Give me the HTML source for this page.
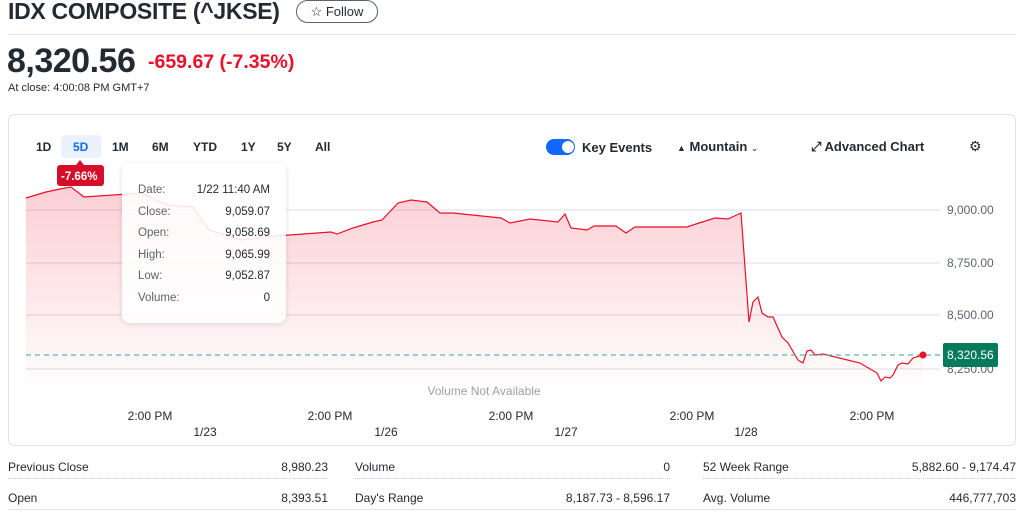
<!DOCTYPE html>
<html><head><meta charset="utf-8"><style>
body{margin:0;width:1024px;height:519px;background:#fff;font-family:"Liberation Sans",sans-serif;color:#232a31;position:relative;overflow:hidden}
.a{position:absolute;white-space:nowrap}
.tab{position:absolute;top:140px;font-size:12px;font-weight:bold;color:#232a31}
.st{position:absolute;font-size:12px;color:#232a31}
.r{text-align:right}
</style></head><body>
<div class="a" style="left:8px;top:-2px;font-size:23px;font-weight:bold;letter-spacing:-0.3px">IDX COMPOSITE (^JKSE)</div>
<div class="a" style="left:296px;top:0px;width:80px;height:21px;border:1px solid #5b636a;border-radius:12px;font-size:13px;line-height:21px;text-align:center">☆ Follow</div>
<div class="a" style="left:8px;top:34px;width:1008px;height:1px;background:#e0e4e9"></div>
<div class="a" style="left:7px;top:42px;font-size:34px;font-weight:bold;letter-spacing:-0.5px">8,320.56</div>
<div class="a" style="left:148px;top:51px;font-size:19.5px;font-weight:bold;color:#eb0f29">-659.67&nbsp;(-7.35%)</div>
<div class="a" style="left:8px;top:82px;font-size:11px;color:#232a31">At close: 4:00:08 PM GMT+7</div>
<div class="a" style="left:8px;top:114px;width:1006px;height:330px;border:1px solid #e0e4e9;border-radius:6px"></div>
<div class="a" style="left:61px;top:135px;width:40px;height:23px;background:#eaf3fd;border-radius:4px"></div>
<div class="tab" style="left:36px">1D</div><div class="tab" style="left:73px;color:#0f69ff">5D</div><div class="tab" style="left:112px">1M</div><div class="tab" style="left:152px">6M</div><div class="tab" style="left:193px">YTD</div><div class="tab" style="left:241px">1Y</div><div class="tab" style="left:277px">5Y</div><div class="tab" style="left:315px">All</div>
<div class="a" style="left:546px;top:139px;width:29px;height:16px;background:#0f69ff;border-radius:8px"></div>
<div class="a" style="left:562px;top:141px;width:12px;height:12px;background:#fff;border-radius:6px"></div>
<div class="a" style="left:582px;top:140px;font-size:13px;font-weight:bold">Key Events</div>
<div class="a" style="left:677px;top:139px;font-size:13px;font-weight:bold"><span style="font-size:9px">▲</span> Mountain <span style="font-size:9px;font-weight:normal">⌄</span></div>
<div class="a" style="left:811px;top:139px;font-size:13px;font-weight:bold">⤢ Advanced Chart</div>
<div class="a" style="left:969px;top:138px;font-size:14px">⚙</div>
<svg class="a" style="left:0;top:0" width="1024" height="519">
<defs><linearGradient id="g" x1="0" y1="0" x2="0" y2="1"><stop offset="0" stop-color="#eb0f29" stop-opacity="0.2"/><stop offset="1" stop-color="#eb0f29" stop-opacity="0.01"/></linearGradient></defs>
<g stroke="#e6e8eb" stroke-width="1.5"><line x1="26" y1="210" x2="940" y2="210"/><line x1="26" y1="263" x2="940" y2="263"/><line x1="26" y1="315" x2="940" y2="315"/><line x1="26" y1="369" x2="940" y2="369"/></g>
<path d="M26,198 L46,192 L60,189 L71,187 L84,197 L142,193 L167,205 L193,207 L209,230 L241,240 L276,236 L331,232 L337,234 L353,228 L373,222 L382,220 L398,203 L411,200 L427,202 L440,213 L453,213 L501,218 L510,223 L530,219 L558,222 L565,214 L571,228 L587,230 L594,226 L616,226 L626,233 L635,227 L687,227 L699,223 L715,218 L728,219 L741,213 L749,322 L753,302 L758,297 L762,313 L768,317 L773,317 L782,337 L788,343 L798,360 L803,363 L807,351 L811,350 L815,355 L823,354 L860,363 L877,373 L881,381 L885,377 L890,378 L893,375 L898,365 L902,363 L908,364 L913,358 L923,355" fill="none" stroke="#eb0f29" stroke-width="1.2"/>
<path d="M26,198 L46,192 L60,189 L71,187 L84,197 L142,193 L167,205 L193,207 L209,230 L241,240 L276,236 L331,232 L337,234 L353,228 L373,222 L382,220 L398,203 L411,200 L427,202 L440,213 L453,213 L501,218 L510,223 L530,219 L558,222 L565,214 L571,228 L587,230 L594,226 L616,226 L626,233 L635,227 L687,227 L699,223 L715,218 L728,219 L741,213 L749,322 L753,302 L758,297 L762,313 L768,317 L773,317 L782,337 L788,343 L798,360 L803,363 L807,351 L811,350 L815,355 L823,354 L860,363 L877,373 L881,381 L885,377 L890,378 L893,375 L898,365 L902,363 L908,364 L913,358 L923,355 L923,385 L26,385Z" fill="url(#g)"/>
<line x1="26" y1="355" x2="940" y2="355" stroke="#5fb5a6" stroke-width="1.2" stroke-dasharray="5,4"/>
<circle cx="923" cy="355" r="3.5" fill="#eb0f29"/>
<g font-size="12" fill="#5b636a"><text x="947" y="214">9,000.00</text><text x="947" y="267">8,750.00</text><text x="947" y="319">8,500.00</text><text x="947" y="373">8,250.00</text></g>
<rect x="943" y="343" width="55" height="24" rx="2" fill="#067a5c"/>
<text x="947" y="359" font-size="12" fill="#fff">8,320.56</text>
<rect x="57" y="165" width="47" height="21" rx="3" fill="#d50f29"/>
<path d="M76,165 L80,160 L84,165Z" fill="#d50f29"/>
<text x="61" y="180" font-size="11.5" font-weight="bold" fill="#fff">-7.66%</text>
<text x="484" y="395" font-size="12" fill="#9aa0a6" text-anchor="middle">Volume Not Available</text>
<g font-size="12" fill="#232a31" text-anchor="middle"><text x="150" y="420">2:00 PM</text><text x="330" y="420">2:00 PM</text><text x="511" y="420">2:00 PM</text><text x="692" y="420">2:00 PM</text><text x="872" y="420">2:00 PM</text>
<text x="205" y="436">1/23</text><text x="386" y="436">1/26</text><text x="566" y="436">1/27</text><text x="746" y="436">1/28</text></g>
</svg>
<div class="a" style="left:122px;top:163px;width:164px;height:160px;background:rgba(255,255,255,0.88);border-radius:8px;box-shadow:0 1px 6px rgba(0,0,0,0.12)"></div>
<div class="a" style="left:138px;top:180px;width:132px;font-size:11.5px;color:#5b636a;line-height:21.5px">
<div>Date:<span style="float:right;color:#232a31">1/22 11:40 AM</span></div>
<div>Close:<span style="float:right;color:#232a31">9,059.07</span></div>
<div>Open:<span style="float:right;color:#232a31">9,058.69</span></div>
<div>High:<span style="float:right;color:#232a31">9,065.99</span></div>
<div>Low:<span style="float:right;color:#232a31">9,052.87</span></div>
<div>Volume:<span style="float:right;color:#232a31">0</span></div></div>
<div class="st" style="left:8px;top:460px">Previous Close</div><div class="st r" style="left:200px;width:128px;top:460px">8,980.23</div>
<div class="st" style="left:355px;top:460px">Volume</div><div class="st r" style="left:560px;width:110px;top:460px">0</div>
<div class="st" style="left:703px;top:460px">52 Week Range</div><div class="st r" style="left:850px;width:166px;top:460px">5,882.60 - 9,174.47</div>
<div class="st" style="left:8px;top:491px">Open</div><div class="st r" style="left:200px;width:128px;top:491px">8,393.51</div>
<div class="st" style="left:355px;top:491px">Day's Range</div><div class="st r" style="left:500px;width:170px;top:491px">8,187.73 - 8,596.17</div>
<div class="st" style="left:703px;top:491px">Avg. Volume</div><div class="st r" style="left:850px;width:166px;top:491px">446,777,703</div>
<div class="a" style="left:8px;top:478px;width:320px;border-top:1px dotted #ccc"></div>
<div class="a" style="left:355px;top:478px;width:315px;border-top:1px dotted #ccc"></div>
<div class="a" style="left:703px;top:478px;width:313px;border-top:1px dotted #ccc"></div>
<div class="a" style="left:8px;top:509px;width:1008px;height:1px;background:#e0e4e9"></div>
</body></html>
